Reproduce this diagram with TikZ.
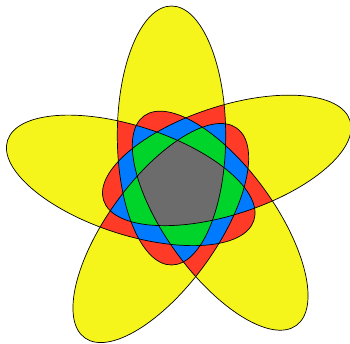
\documentclass[tikz,border=0pt]{standalone}
\definecolor{cY}{RGB}{245,245,28}
\definecolor{cR}{RGB}{255,58,38}
\definecolor{cB}{RGB}{0,122,255}
\definecolor{cG}{RGB}{0,212,43}
\definecolor{cK}{RGB}{108,108,108}
\newcommand\tiltangle{0}
\tikzset{E/.style={shift={(182pt,157pt)}, rotate=72*#1, shift={(-10.5pt,50.5pt)}, rotate=\tiltangle}}
\def\EP{(0,0) ellipse [x radius=54.2pt, y radius=129.5pt]}
\begin{document}
\begin{tikzpicture}
\useasboundingbox (0,0) rectangle (350pt,343pt);
\foreach \i in {0,...,4} \fill[cY, E=\i] \EP;
\foreach \i/\j in {0/1,0/2,0/3,0/4,1/2,1/3,1/4,2/3,2/4,3/4}{
  \begin{scope}\clip[E=\i] \EP; \fill[cR, E=\j] \EP;\end{scope}}
\foreach \i/\j/\k in {0/1/2,0/1/3,0/1/4,0/2/3,0/2/4,0/3/4,1/2/3,1/2/4,1/3/4,2/3/4}{
  \begin{scope}\clip[E=\i] \EP; \clip[E=\j] \EP; \fill[cB, E=\k] \EP;\end{scope}}
\foreach \i/\j/\k/\l in {0/1/2/3,0/1/2/4,0/1/3/4,0/2/3/4,1/2/3/4}{
  \begin{scope}\clip[E=\i] \EP; \clip[E=\j] \EP; \clip[E=\k] \EP; \fill[cG, E=\l] \EP;\end{scope}}
\begin{scope}\clip[E=0] \EP; \clip[E=1] \EP; \clip[E=2] \EP; \clip[E=3] \EP; \fill[cK, E=4] \EP;\end{scope}
\foreach \i in {0,...,4} \draw[line width=0.7pt, E=\i] \EP;
\end{tikzpicture}
\end{document}
